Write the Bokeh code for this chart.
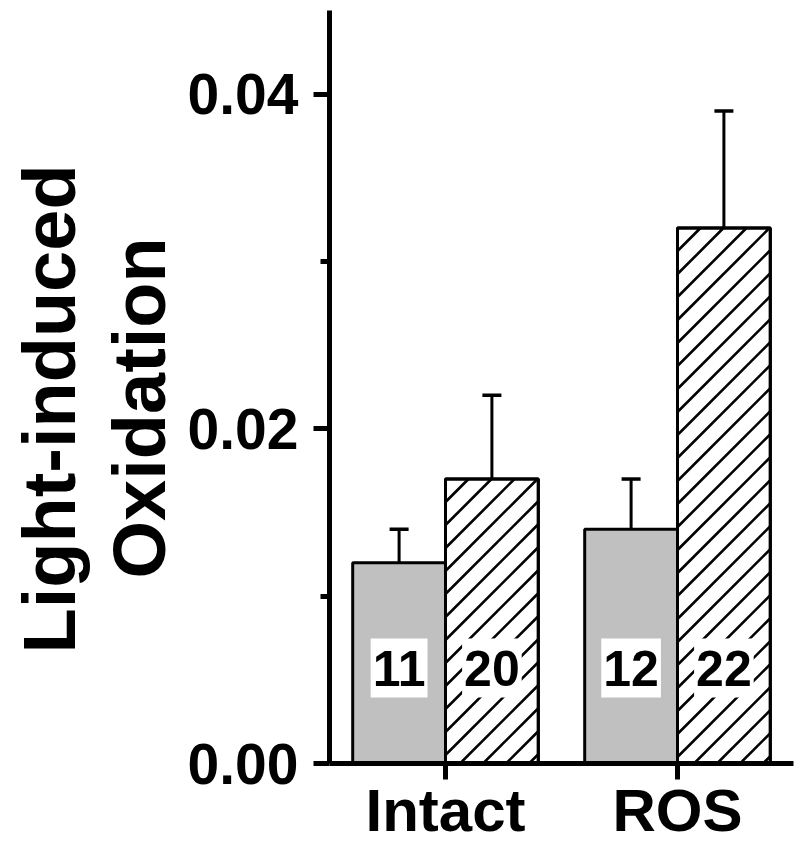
import numpy as np
from bokeh.plotting import figure
from bokeh.models import ColumnDataSource, FactorRange, Range1d, FixedTicker, Title
from bokeh.transform import dodge
from bokeh.core.properties import value
from bokeh.embed import file_html
from bokeh.resources import INLINE

categories = ["Intact", "ROS"]
control_mean = [0.012, 0.014]
control_err = [0.002, 0.003]
control_n = ["11", "12"]
treated_mean = [0.017, 0.032]
treated_err = [0.005, 0.007]
treated_n = ["20", "22"]
y_ticks = [0.0, 0.02, 0.04]
y_minor = [0.01, 0.03]
y_labels = {0.0: "0.00", 0.02: "0.02", 0.04: "0.04"}
y_title = ["Light-induced", "Oxidation"]

FONT = value("Liberation Sans")
W, H = 800, 848
BL, BR, BT, BB = 329, 7, 10, 85
Y_MAX = 0.045

src_c = ColumnDataSource(dict(cat=categories, top=control_mean,
                              up=[m + e for m, e in zip(control_mean, control_err)],
                              n=control_n))
src_t = ColumnDataSource(dict(cat=categories, top=treated_mean,
                              up=[m + e for m, e in zip(treated_mean, treated_err)],
                              n=treated_n))

p = figure(width=W, height=H, output_backend="svg", toolbar_location=None,
           x_range=FactorRange(*categories, range_padding=0),
           y_range=Range1d(0, Y_MAX),
           min_border_left=BL, min_border_right=BR, min_border_top=BT,
           min_border_bottom=BB, outline_line_color=None)
p.xgrid.visible = False
p.ygrid.visible = False

off = 0.2
bw = 0.4
p.vbar(x=dodge("cat", -off, range=p.x_range), top="top", bottom=0, width=bw,
       source=src_c, fill_color="#c0c0c0", line_color="black", line_width=3)
p.vbar(x=dodge("cat", off, range=p.x_range), top="top", bottom=0, width=bw,
       source=src_t, fill_color="white", line_color="black", line_width=3)

# 45-degree "/" hatching of the treated bars, computed from the bar extents
px_x = (W - BL - BR) / len(categories)      # pixels per category unit
px_y = (H - BT - BB) / Y_MAX                # pixels per y unit
spacing = 23.0                              # horizontal hatch spacing, px
hx0, hx1, hy0, hy1 = [], [], [], []
for i, top in enumerate(treated_mean):
    c = i + 0.5 + off
    XL, XR = (c - bw / 2) * px_x, (c + bw / 2) * px_x
    YT = top * px_y
    for k in np.arange(XL - YT, XR, spacing):
        lo, hi = max(XL, k), min(XR, k + YT)
        if hi - lo > 0.5:
            hx0.append(lo / px_x); hy0.append((lo - k) / px_y)
            hx1.append(hi / px_x); hy1.append((hi - k) / px_y)
p.segment(x0=hx0, y0=hy0, x1=hx1, y1=hy1, line_color="black",
          line_width=2.6, line_cap="butt")
p.vbar(x=dodge("cat", off, range=p.x_range), top="top", bottom=0, width=bw,
       source=src_t, fill_color=None, line_color="black", line_width=3)

for src, o in ((src_c, -off), (src_t, off)):
    xd = dodge("cat", o, range=p.x_range)
    p.segment(x0=xd, x1=xd, y0="top", y1="up", source=src,
              line_color="black", line_width=3)
    p.scatter(x=xd, y="up", source=src, marker="dash", size=19,
              line_color="black", line_width=3.5)

label_y = 0.0057
for src, o in ((src_c, -off), (src_t, off)):
    p.text(x=dodge("cat", o, range=p.x_range), y=label_y, text="n", source=src,
           text_font=FONT, text_font_style="bold", text_font_size="50px",
           text_align="center", text_baseline="middle", text_color="black",
           background_fill_color="white", padding=(2, 12))

# axes
for ax in (p.xaxis[0], p.yaxis[0]):
    ax.axis_line_width = 5
    ax.axis_line_color = "black"
    ax.major_tick_line_width = 5
    ax.minor_tick_line_width = 5
    ax.major_tick_in = 0
    ax.major_tick_out = 16
    ax.major_label_text_font = "Liberation Sans"
    ax.major_label_text_font_style = "bold"
    ax.major_label_text_color = "black"

p.yaxis.ticker = FixedTicker(ticks=y_ticks, minor_ticks=y_minor)
p.yaxis.major_label_overrides = y_labels
p.yaxis.minor_tick_in = 0
p.yaxis.minor_tick_out = 9
p.yaxis.major_label_text_font_size = "57px"
p.yaxis.major_label_standoff = 15

p.xaxis.major_label_text_font_size = "60px"
p.xaxis.major_label_standoff = -3
p.xaxis.major_label_orientation = "horizontal"

# y axis title: two rotated lines, added as side titles (inner line first)
for txt, offs, so in ((y_title[1], 185, 8), (y_title[0], 110, 1)):
    p.add_layout(Title(text=txt, align="left", offset=offs,
                       vertical_align="bottom", standoff=so,
                       text_font="Liberation Sans", text_font_style="bold",
                       text_font_size="74px", text_color="black"), "left")

open("out.html", "w").write(file_html(p, INLINE))
